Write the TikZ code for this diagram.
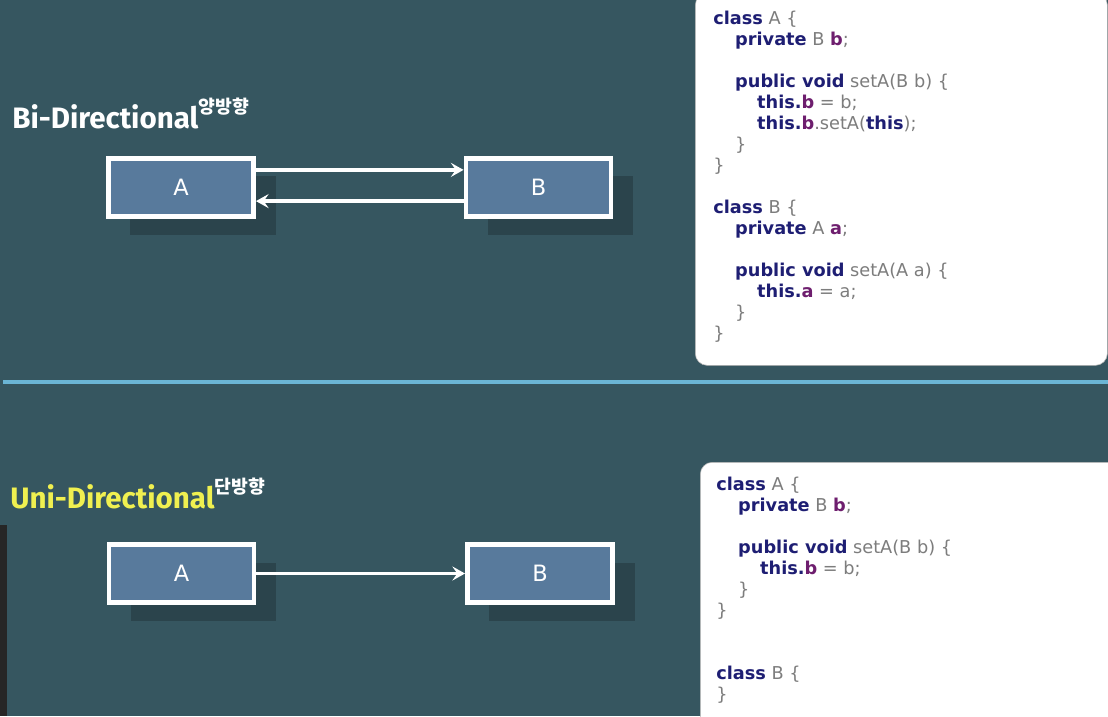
\documentclass[tikz,border=0pt]{standalone}
\usepackage{fontspec}
\setmainfont{DejaVu Sans}
\newfontfamily\headfont{Fira Sans}
\newfontfamily\kr{Noto Sans CJK KR}
\usetikzlibrary{arrows.meta,shadows}

\definecolor{slate}{RGB}{54,86,96}
\definecolor{boxblue}{RGB}{88,122,156}
\definecolor{sepblue}{RGB}{107,181,213}
\definecolor{kwnavy}{RGB}{30,30,115}
\definecolor{tygray}{RGB}{125,125,125}
\definecolor{fdpurple}{RGB}{110,30,110}
\definecolor{uniyellow}{RGB}{240,240,80}

\newcommand{\kw}[1]{\textbf{\textcolor{kwnavy}{#1}}}
\newcommand{\ty}[1]{\textcolor{tygray}{#1}}
\newcommand{\fd}[1]{\textbf{\textcolor{fdpurple}{#1}}}
\newcommand{\ind}{\hspace*{15.6pt}}

\begin{document}
\begin{tikzpicture}[
    x=0.025cm, y=-0.025cm,
    box/.style={rectangle, draw=white, line width=3.5pt, fill=boxblue, minimum width=3.625cm, minimum height=1.45cm,
        text=white, font=\fontsize{16}{16}\selectfont,
        drop shadow={shadow xshift=0.55cm, shadow yshift=-0.45cm, opacity=0.2, fill=black}},
    arrow/.style={-{Stealth[length=9pt, width=10pt, inset=3.5pt]}, white, line width=2.8pt},
    codebox/.style={rectangle, draw=gray!60, fill=white, rounded corners=0.3cm, anchor=north west},
    code/.style={anchor=north west, inner sep=0pt, align=left, font=\fontsize{12.6}{14.9}\selectfont},
    title/.style={anchor=base west, inner sep=0pt, font=\headfont\bfseries\fontsize{21}{21}\selectfont}
]

% Background
\useasboundingbox (0,0) rectangle (1108,716);
\clip (0,0) rectangle (1108,716);
\fill[slate] (0,0) rectangle (1108,716);
\fill[black!85] (0,525) rectangle (7,716);

% Separator
\draw[sepblue, line width=2.8pt] (3,382) -- (1108,382);

% Bi-directional
\node[title, text=white] (bititle) at (12,128) {Bi-Directional\raisebox{0.9ex}{\kr\fontsize{13}{13}\selectfont 양방향}};
\node[box] (biA) at (181,187.5) {A};
\node[box] (biB) at (538.5,187.5) {B};
\draw[arrow] ([yshift=0.44cm]biA.east) -- ([yshift=0.44cm]biB.west);
\draw[arrow] ([yshift=-0.34cm]biB.west) -- ([yshift=-0.34cm]biA.east);

% Uni-directional
\node[title, text=uniyellow] (unititle) at (10,508) {Uni-Directional\raisebox{0.9ex}{\textcolor{white}{\kr\fontsize{13}{13}\selectfont 단방향}}};
\node[box] (uniA) at (181.5,573.5) {A};
\node[box] (uniB) at (540,573.5) {B};
\draw[arrow] (uniA) -- (uniB);

% Code boxes
\node[codebox, minimum width=10.3cm, minimum height=9.3cm] (bicodebox) at (695,-7) {};
\node[code] (bicode) at (713,11) {%
\kw{class} \ty{A \{}\\
\ind\kw{private} \ty{B} \fd{b}\ty{;}\\
\mbox{}\\
\ind\kw{public void} \ty{setA(B b) \{}\\
\ind\ind\kw{this.}\fd{b} \ty{= b;}\\
\ind\ind\kw{this.}\fd{b}\ty{.setA(}\kw{this}\ty{);}\\
\ind\ty{\}}\\
\ty{\}}\\
\mbox{}\\
\kw{class} \ty{B \{}\\
\ind\kw{private} \ty{A} \fd{a}\ty{;}\\
\mbox{}\\
\ind\kw{public void} \ty{setA(A a) \{}\\
\ind\ind\kw{this.}\fd{a} \ty{= a;}\\
\ind\ty{\}}\\
\ty{\}}};

\node[codebox, minimum width=10.5cm, minimum height=7cm] (unicodebox) at (700,462) {};
\node[code] (unicode) at (716,477) {%
\kw{class} \ty{A \{}\\
\ind\kw{private} \ty{B} \fd{b}\ty{;}\\
\mbox{}\\
\ind\kw{public void} \ty{setA(B b) \{}\\
\ind\ind\kw{this.}\fd{b} \ty{= b;}\\
\ind\ty{\}}\\
\ty{\}}\\
\mbox{}\\
\mbox{}\\
\kw{class} \ty{B \{}\\
\ty{\}}};

\end{tikzpicture}
\end{document}
